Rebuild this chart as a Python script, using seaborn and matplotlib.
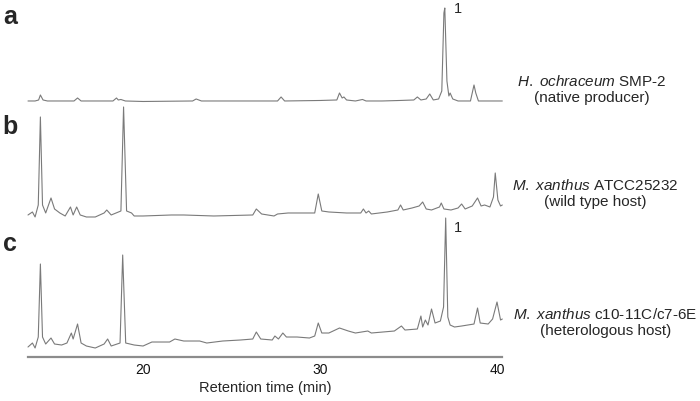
import matplotlib
matplotlib.use("Agg")
from matplotlib import pyplot as plt
import pandas as pd
import seaborn as sns

# retention time (min) / signal (arbitrary units, baseline = 0)
time_a = [13.5, 13.9, 14.1, 14.2, 14.35, 14.6, 16.1, 16.3, 16.5, 18.3, 18.5, 18.6, 18.75, 19.0,
          20.0, 22.8, 23.0, 23.3, 25.0, 27.6, 27.8, 28.0, 30.0, 30.95, 31.1, 31.25, 31.35, 31.5,
          32.0, 32.4, 32.6, 33.5, 34.5, 35.3, 35.5, 35.7, 36.0, 36.2, 36.4, 36.7, 36.88, 37.0,
          37.05, 37.17, 37.28, 37.35, 37.5, 37.8, 38.5, 38.6, 38.7, 38.8, 38.95, 40.3]
signal_a = [0, 0, 1, 6, 1, 0, 0, 3, 0, 0, 3, 1, 1.5, 0,
            -0.5, 0, 2, 0, 0, 0, 4, 0, 0.5, 1, 8, 3, 4, 1,
            0, 1.5, 0, 0, 0.5, 1, 4, 1, 2, 7, 1, 2, 10, 88,
            93, 20, 5, 8, 2, 0, 0, 8, 16, 8, 0, 0]

time_b = [13.5, 13.75, 13.9, 14.08, 14.2, 14.32, 14.5, 14.8, 15.0, 15.3, 15.6, 15.9, 16.05, 16.25,
          16.45, 16.8, 17.3, 17.8, 17.95, 18.2, 18.75, 18.9, 19.07, 19.35, 19.5, 20.0, 21.6, 22.3,
          24.0, 26.2, 26.4, 26.7, 27.4, 27.6, 28.2, 29.7, 29.9, 30.1, 30.5, 31.5, 32.3, 32.45,
          32.6, 32.75, 32.9, 33.8, 34.4, 34.55, 34.7, 35.2, 35.6, 35.8, 36.0, 36.3, 36.75, 36.85,
          37.0, 37.4, 37.8, 38.0, 38.2, 38.6, 38.9, 39.1, 39.3, 39.6, 39.8, 39.9, 40.05, 40.2, 40.3]
signal_b = [0, 3, -2, 10, 98, 10, 2, 17, 6, 2, -1, 8, 0, 8,
            0, -2, -2, 2, 5, 0, 4, 108, 4, 2, -1, -1, 0, 0,
            -1, 0, 6, 1, -1, 1, 2, 2, 21, 4, 3, 2, 2, 6,
            2, 4, 1, 3, 5, 10, 5, 7, 9, 13, 6, 5, 8, 12,
            6, 5, 7, 11, 6, 9, 17, 9, 10, 8, 18, 42, 15, 9, 10]

time_c = [13.5, 13.75, 13.9, 14.08, 14.2, 14.32, 14.5, 14.8, 15.0, 15.4, 15.7, 15.95, 16.05, 16.3,
          16.5, 16.8, 17.3, 17.8, 18.0, 18.2, 18.7, 18.85, 19.02, 19.5, 20.0, 20.5, 21.5, 21.8,
          22.3, 23.2, 23.6, 24.5, 25.5, 26.2, 26.4, 26.65, 27.3, 27.45, 27.65, 27.9, 28.1, 28.7,
          29.4, 29.7, 29.9, 30.1, 30.5, 31.1, 31.6, 32.0, 32.7, 32.9, 34.2, 34.6, 34.8, 35.5,
          35.7, 35.8, 35.95, 36.1, 36.3, 36.5, 36.8, 36.98, 37.1, 37.22, 37.35, 37.6, 38.0, 38.7,
          38.9, 39.05, 39.5, 39.75, 40.0, 40.2, 40.3]
signal_c = [0, 4, -1, 10, 83, 10, 3, 9, 3, 2, 4, 14, 8, 23,
            4, 1, -1, 3, 8, 1, 4, 92, 4, 2, 1, 5, 5, 8,
            6, 6, 4, 6, 7, 8, 15, 8, 7, 11, 8, 14, 10, 10,
            9, 11, 24, 14, 14, 19, 16, 14, 16, 14, 16, 21, 17, 18,
            31, 20, 27, 22, 38, 24, 26, 40, 129, 30, 22, 20, 21, 23,
            39, 24, 23, 28, 45, 27, 28]

panel_letters = ["a", "b", "c"]
sample_labels = ["$\\mathit{H.}$ $\\mathit{ochraceum}$ SMP-2\n(native producer)",
                 "$\\mathit{M.}$ $\\mathit{xanthus}$ ATCC25232\n(wild type host)",
                 "$\\mathit{M.}$ $\\mathit{xanthus}$ c10-11C/c7-6E\n(heterologous host)"]
x_ticks = [20, 30, 40]

sns.set_style("white")
plt.rcParams["font.family"] = ["Liberation Sans", "DejaVu Sans"]
plt.rcParams["mathtext.fontset"] = "custom"
plt.rcParams["mathtext.it"] = "Liberation Sans:italic"
plt.rcParams["mathtext.rm"] = "Liberation Sans"

fig = plt.figure(figsize=(7, 4.01), dpi=100)

# axes boxes [left, bottom, width, height] and y ranges
boxes = [[0.04, 0.7382, 0.6776, 0.2618],
         [0.04, 0.4514, 0.6776, 0.2868],
         [0.04, 0.1097, 0.6776, 0.3616]]
ylims = [(-4, 101), (-5, 110), (-10, 135)]

traces = [(time_a, signal_a), (time_b, signal_b), (time_c, signal_c)]
axes = []
for i, (t, s) in enumerate(traces):
    ax = fig.add_axes(boxes[i])
    ax.patch.set_visible(False)
    df = pd.DataFrame({"time": t, "signal": s})
    sns.lineplot(data=df, x="time", y="signal", ax=ax, color="#7a7a7a", lw=0.8,
                 sort=False, clip_on=False)
    ax.set_xlim(13.5, 40.3)
    ax.set_ylim(*ylims[i])
    ax.set_xlabel("")
    ax.set_ylabel("")
    ax.set_yticks([])
    for sp in ax.spines.values():
        sp.set_visible(False)
    if i < 2:
        ax.set_xticks([])
    axes.append(ax)

# bottom axis
axc = axes[2]
axc.spines["bottom"].set_visible(True)
axc.spines["bottom"].set_color("#8c8c8c")
axc.spines["bottom"].set_linewidth(1.6)
axc.set_xticks(x_ticks)
axc.tick_params(axis="x", length=0, pad=4, labelsize=10, colors="#111111")
axc.set_xlabel("Retention time (min)", fontsize=10.5, labelpad=3)

# panel letters
for ax, letter, y in zip(axes, panel_letters, [0.958, 0.683, 0.392]):
    fig.text(0.004, y, letter, fontsize=18, fontweight="bold", va="center", ha="left")

# sample labels on the right
for lab, x, y in zip(sample_labels, [0.845, 0.851, 0.865], [0.777, 0.517, 0.195]):
    fig.text(x, y, lab, fontsize=11, ha="center", va="center",
             multialignment="center", linespacing=1.15)

# compound 1 annotations
fig.text(0.654, 0.977, "1", fontsize=10.5, ha="center", va="center")
fig.text(0.654, 0.431, "1", fontsize=10.5, ha="center", va="center")

fig.savefig("out.png", dpi=100)
